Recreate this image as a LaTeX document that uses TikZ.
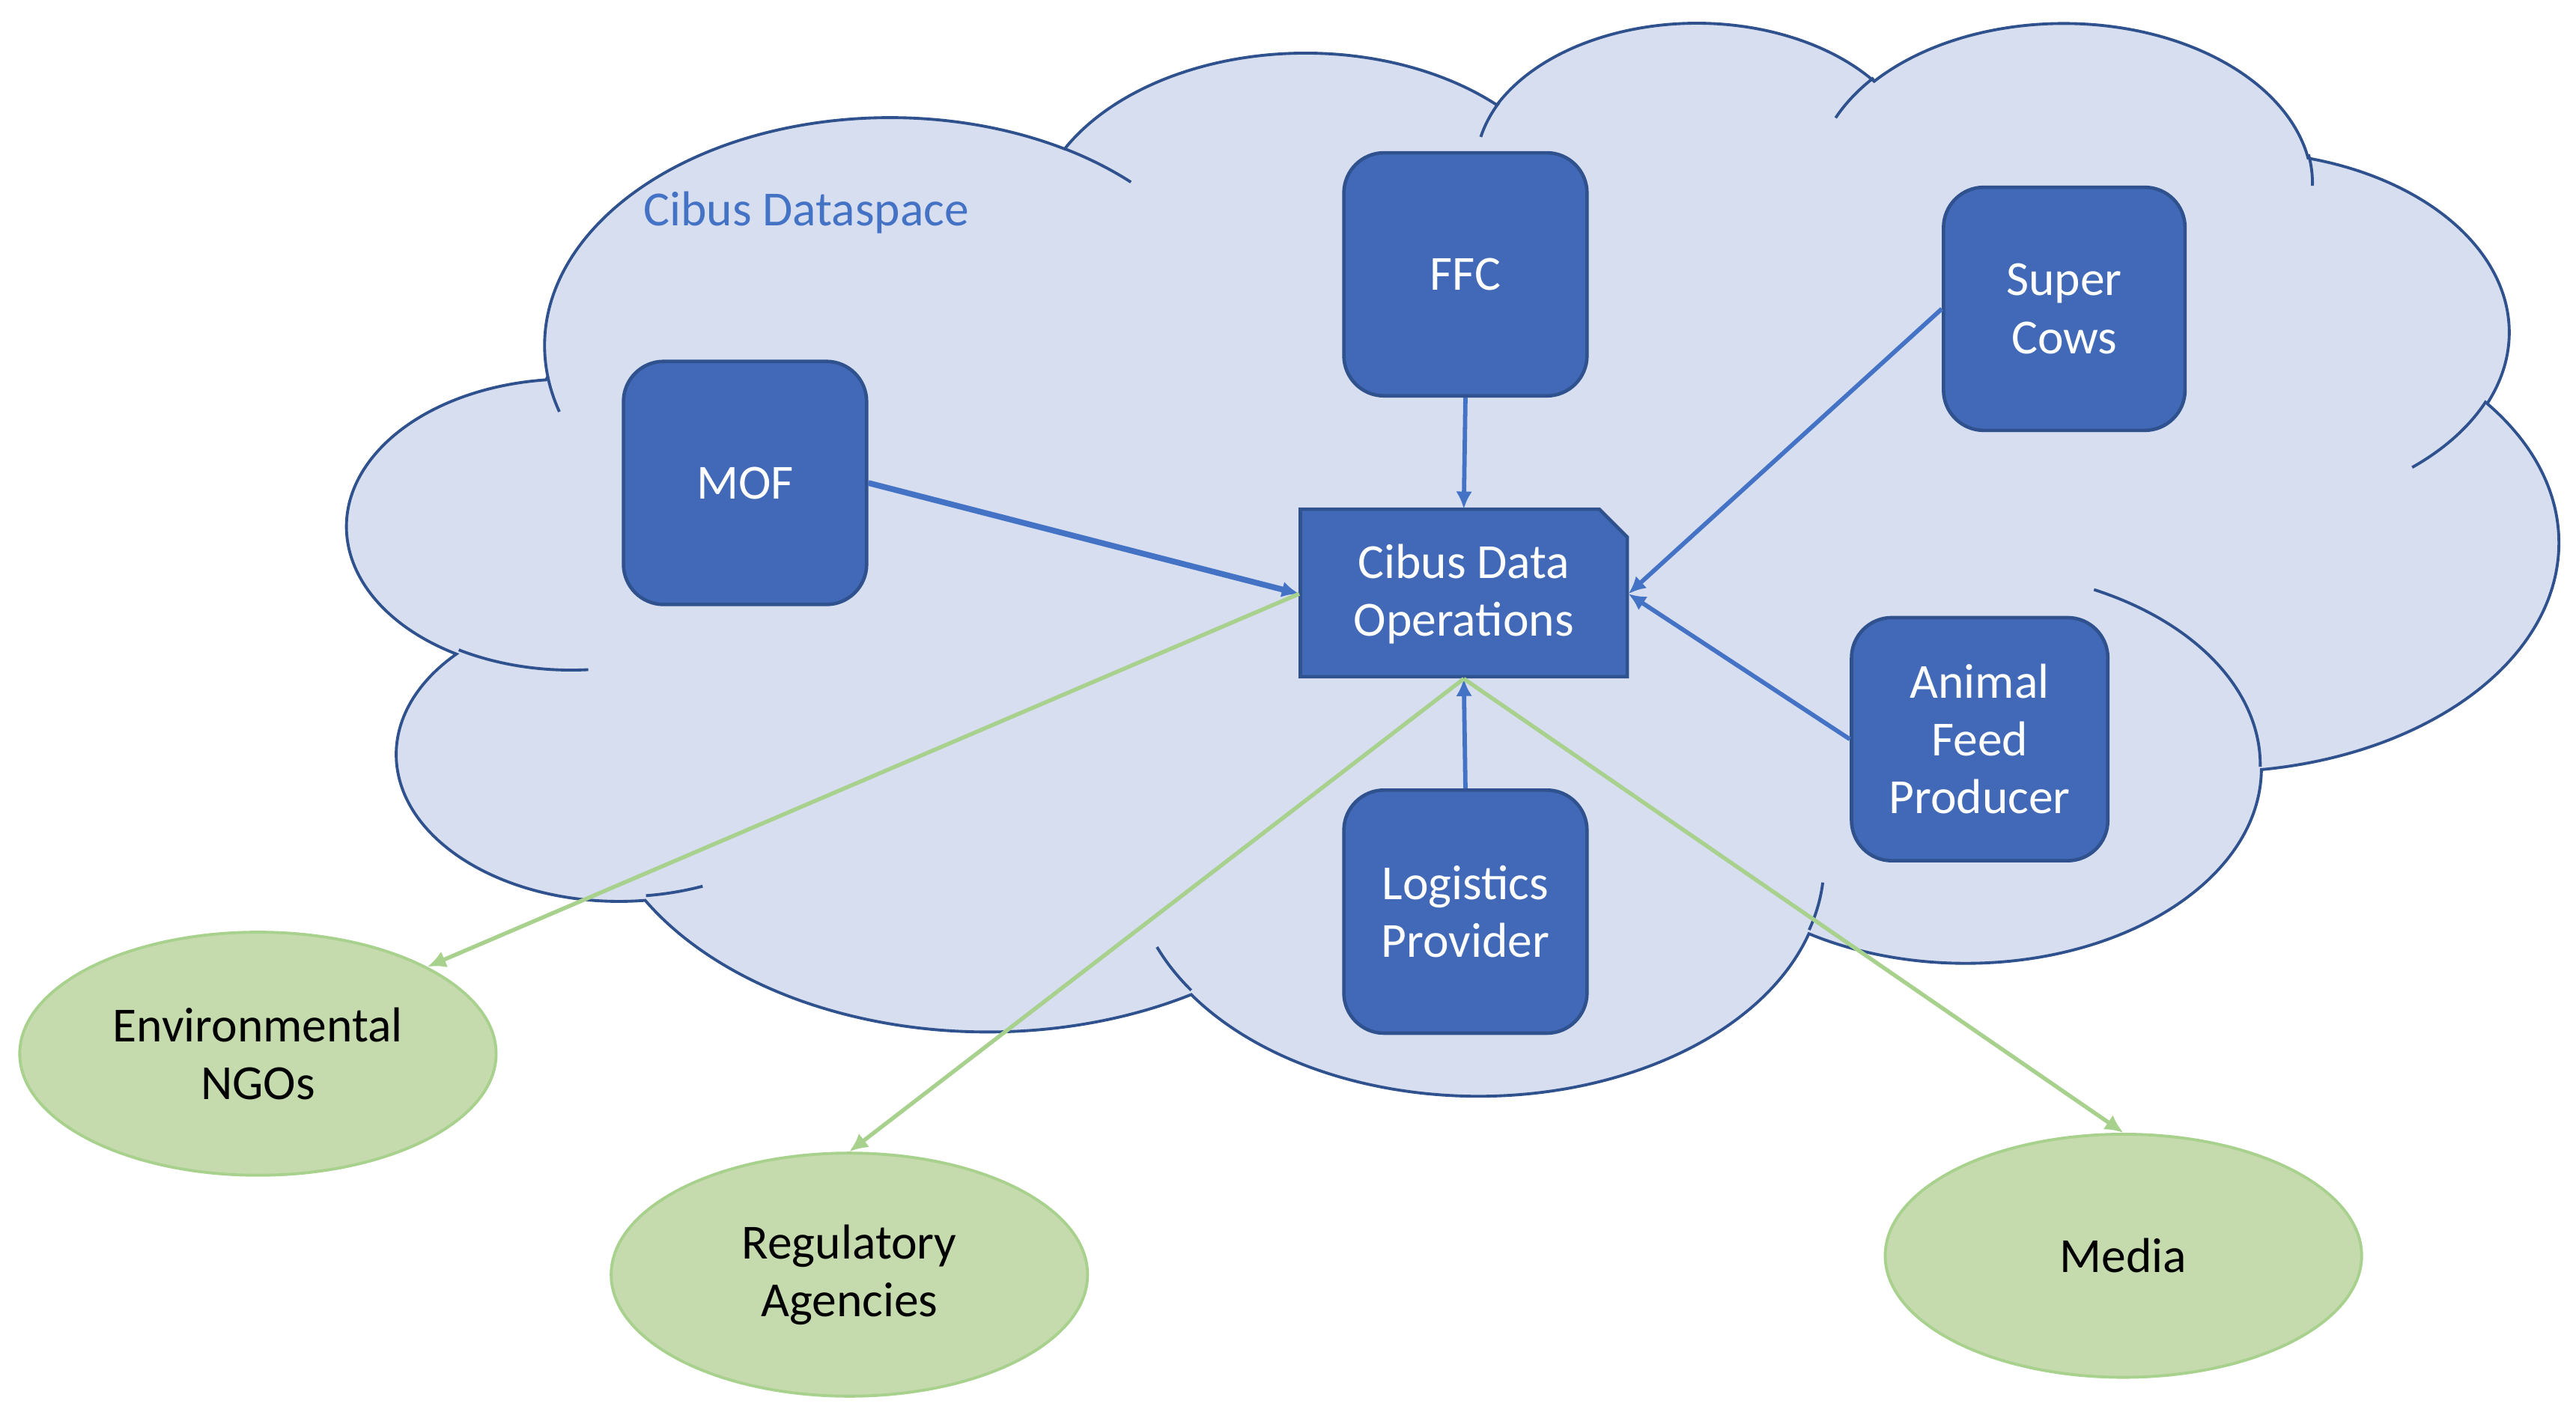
\documentclass[tikz,border=0pt]{standalone}
\usepackage{fontspec}
\setmainfont{Carlito}
\usepackage{tikz}
\usetikzlibrary{arrows.meta}
\usetikzlibrary{shapes.geometric}

\definecolor{cloudfill}{RGB}{214,222,239}
\definecolor{cloudline}{RGB}{47,82,143}
\definecolor{boxfill}{RGB}{65,105,184}
\definecolor{boxline}{RGB}{47,82,143}
\definecolor{linkblue}{RGB}{68,114,196}
\definecolor{groupfill}{RGB}{197,218,173}
\definecolor{groupline}{RGB}{169,209,142}

\tikzset{
	cloud arc/.style n args={4}{insert path={arc[x radius=#1, y radius=#2,
		start angle={atan2(#1*sin(#3),#2*cos(#3))},
		delta angle={mod(atan2(#1*sin(#3+#4),#2*cos(#3+#4))-atan2(#1*sin(#3),#2*cos(#3))+720,360)}]}},
	member/.style={draw=boxline, fill=boxfill, line width=0.6pt, rounded corners=0.245cm,
		minimum width=1.48cm, minimum height=1.48cm, inner sep=0pt, text=white, align=center,
		font=\fontsize{8.5}{10}\selectfont},
	hub/.style={minimum width=1.99cm, minimum height=1.02cm, inner sep=0pt, text=white,
		align=center, font=\fontsize{8.5}{10}\selectfont},
	group/.style={ellipse, draw=groupline, fill=groupfill, line width=0.5pt,
		minimum width=2.90cm, minimum height=1.48cm, inner sep=0pt, align=center,
		font=\fontsize{8.5}{10}\selectfont},
	link/.style={draw=linkblue, line width=0.75pt, -{Latex[length=3pt,width=2.8pt]}},
	share/.style={draw=groupline, line width=0.7pt, -{Latex[length=3.2pt,width=3pt]}}
}

\begin{document}
\begin{tikzpicture}
			\useasboundingbox (0,0) rectangle (15.68,-8.651);
			% dataspace cloud
			\begin{scope}[shift={(2.12,-0.12)}, xscale=0.311343, yscale=-0.151157]
				\filldraw[fill=cloudfill, draw=cloudline, line width=0.5pt] (3.900,14.370)
					[cloud arc={6.753}{9.190}{-190.48748}{123.78053}]
					[cloud arc={5.333}{7.267}{-144.10238}{89.94523}]
					[cloud arc={4.365}{5.945}{-145.80792}{99.72302}]
					[cloud arc={4.857}{6.595}{-130.98607}{117.24173}]
					[cloud arc={5.333}{7.273}{-78.70888}{109.02692}]
					[cloud arc={6.775}{9.220}{-46.26725}{130.26900}]
					[cloud arc={5.785}{7.867}{0.62502}{114.03333}]
					[cloud arc={6.752}{9.215}{22.45160}{115.17255}]
					[cloud arc={7.720}{10.543}{66.24263}{75.71102}]
					[cloud arc={4.360}{5.918}{-274.94208}{146.73557}]
					[cloud arc={4.345}{5.945}{-246.82850}{152.51885}] -- cycle;
				\draw[cloudline, line width=0.5pt]
					(4.693,26.177) [cloud arc={4.345}{5.945}{86.74200}{26.42950}]
					(6.928,34.899) [cloud arc={4.360}{5.918}{73.61047}{11.44747}]
					(16.478,39.090) [cloud arc={6.752}{9.215}{137.62415}{14.08110}]
					(28.827,34.751) [cloud arc={6.752}{9.215}{6.45327}{15.99835}]
					(34.129,22.954) [cloud arc={5.785}{7.867}{-70.29235}{70.91737}]
					(41.798,15.354) [cloud arc={5.333}{7.273}{30.31803}{27.75150}]
					(38.324,5.426) [cloud arc={4.857}{6.595}{-13.74433}{14.85890}]
					(29.078,3.952) [cloud arc={4.857}{6.595}{-149.18145}{18.19537}]
					(22.141,4.720) [cloud arc={4.365}{5.945}{-163.49427}{17.68635}]
					(14.000,5.192) [cloud arc={6.753}{9.190}{-66.70695}{12.31935}]
					(4.127,15.789) [cloud arc={6.753}{9.190}{157.65435}{11.85817}];
			\end{scope}
			\node[anchor=west, inner sep=0pt, text=linkblue, font=\fontsize{8.5}{10}\selectfont] (title) at (3.91,-1.295) {Cibus Dataspace};
			% members
			\node[member] (mof) at (4.535,-2.94) {MOF};
			\node[member] (ffc) at (8.92,-1.67) {FFC};
			\node[member, minimum width=1.47cm] (cows) at (12.565,-1.88) {Super\\Cows};
			\node[member, minimum width=1.56cm] (feed) at (12.05,-4.50) {Animal\\Feed\\Producer};
			\node[member] (logistics) at (8.92,-5.55) {Logistics\\Provider};
			% operations
			\filldraw[fill=boxfill, draw=boxline, line width=0.6pt] (7.915,-4.12) -- (7.915,-3.10) -- (9.735,-3.10) -- (9.905,-3.27) -- (9.905,-4.12) -- cycle;
			\node[hub] (ops) at (8.91,-3.615) {Cibus Data\\Operations};
			% outside
			\node[group] (ngo) at (1.57,-6.415) {Environmental\\NGOs};
			\node[group] (regulators) at (5.17,-7.76) {Regulatory\\Agencies};
			\node[group] (media) at (12.925,-7.645) {Media};
			\draw[link, line width=1pt] (mof.east) -- (ops.west);
			\draw[link] (ffc.south) -- (ops.north);
			\draw[link] (cows.west) -- (ops.east);
			\draw[link] (feed.west) -- (ops.east);
			\draw[link] (logistics.north) -- (ops.south);
			\draw[share] (ops.west) -- (ngo.north east);
			\draw[share] (ops.south) -- (regulators.north);
			\draw[share] (ops.south) -- (media.north);
		\end{tikzpicture}
\end{document}
